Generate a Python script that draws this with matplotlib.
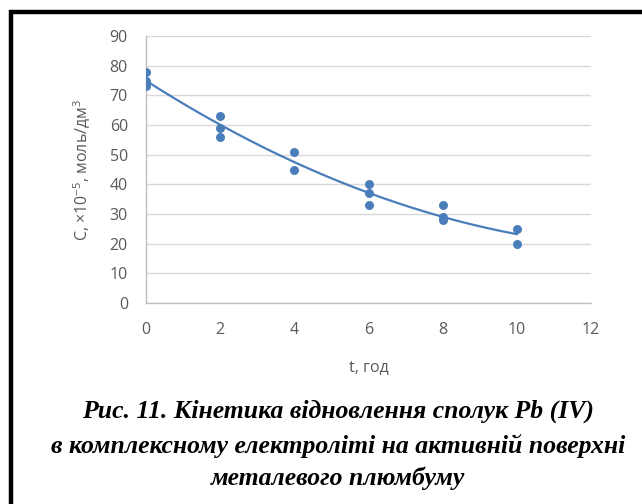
import numpy as np
import matplotlib
matplotlib.use("Agg")
import matplotlib.pyplot as plt
from matplotlib.lines import Line2D

t_vals = [0, 0, 0, 2, 2, 2, 4, 4, 6, 6, 6, 8, 8, 8, 10, 10]
c_vals = [78, 75, 73, 63, 59, 56, 51, 45, 40, 37, 33, 33, 29, 28, 25, 20]
x_ticks = [0, 2, 4, 6, 8, 10, 12]
y_ticks = [0, 10, 20, 30, 40, 50, 60, 70, 80, 90]
caption = ["Рис. 11. Кінетика відновлення сполук Pb (IV)",
           "в комплексному електроліті на активній поверхні",
           "металевого плюмбуму"]

blue = "#4a7ebb"
tick_col = "#595959"

fig = plt.figure(figsize=(6.42, 5.04), dpi=100)
ax = fig.add_axes([146/642, 1-303/504, (591-146)/642, (303-36)/504])

ax.scatter(t_vals, c_vals, s=42, color=blue, zorder=3, linewidths=0)
coef = np.polyfit(t_vals, c_vals, 2)
xx = np.linspace(0, 10, 200)
ax.plot(xx, np.polyval(coef, xx), color=blue, lw=1.6, zorder=2)

ax.set_xlim(0, 12)
ax.set_ylim(0, 90)
ax.set_xticks(x_ticks)
ax.set_yticks(y_ticks)
ax.grid(axis='y', color='#d9d9d9', lw=1)
ax.set_axisbelow(True)
for s in ['top', 'right']:
    ax.spines[s].set_visible(False)
for s in ['left', 'bottom']:
    ax.spines[s].set_color('#bfbfbf')
    ax.spines[s].set_linewidth(1)
ax.tick_params(length=0, labelsize=11.5, labelcolor=tick_col)
ax.tick_params(axis='x', pad=14)
ax.tick_params(axis='y', pad=13)
for lab in ax.get_xticklabels() + ax.get_yticklabels():
    lab.set_family('Open Sans')

ax.set_xlabel("t, год", fontsize=11.5, color=tick_col, family='Open Sans', labelpad=15)
ax.set_ylabel("С, ×10$^{\\mathregular{-5}}$, моль/дм$^{\\mathregular{3}}$", fontsize=11.5,
              color=tick_col, family='Open Sans', labelpad=12)

ys = [411, 446, 478]
for line, y in zip(caption, ys):
    fig.text(338/642, 1-y/504, line, ha='center', va='center', fontsize=18.5,
             family='Liberation Serif', style='italic', weight='bold', color='black')

fig.add_artist(Line2D([11/642, 11/642], [0, 1-10/504], transform=fig.transFigure,
                      color='black', lw=3.2, solid_capstyle='butt'))
fig.add_artist(Line2D([9/642, 1], [1-12/504, 1-12/504], transform=fig.transFigure,
                      color='black', lw=3.2, solid_capstyle='butt'))

fig.savefig("out.png", dpi=100)
